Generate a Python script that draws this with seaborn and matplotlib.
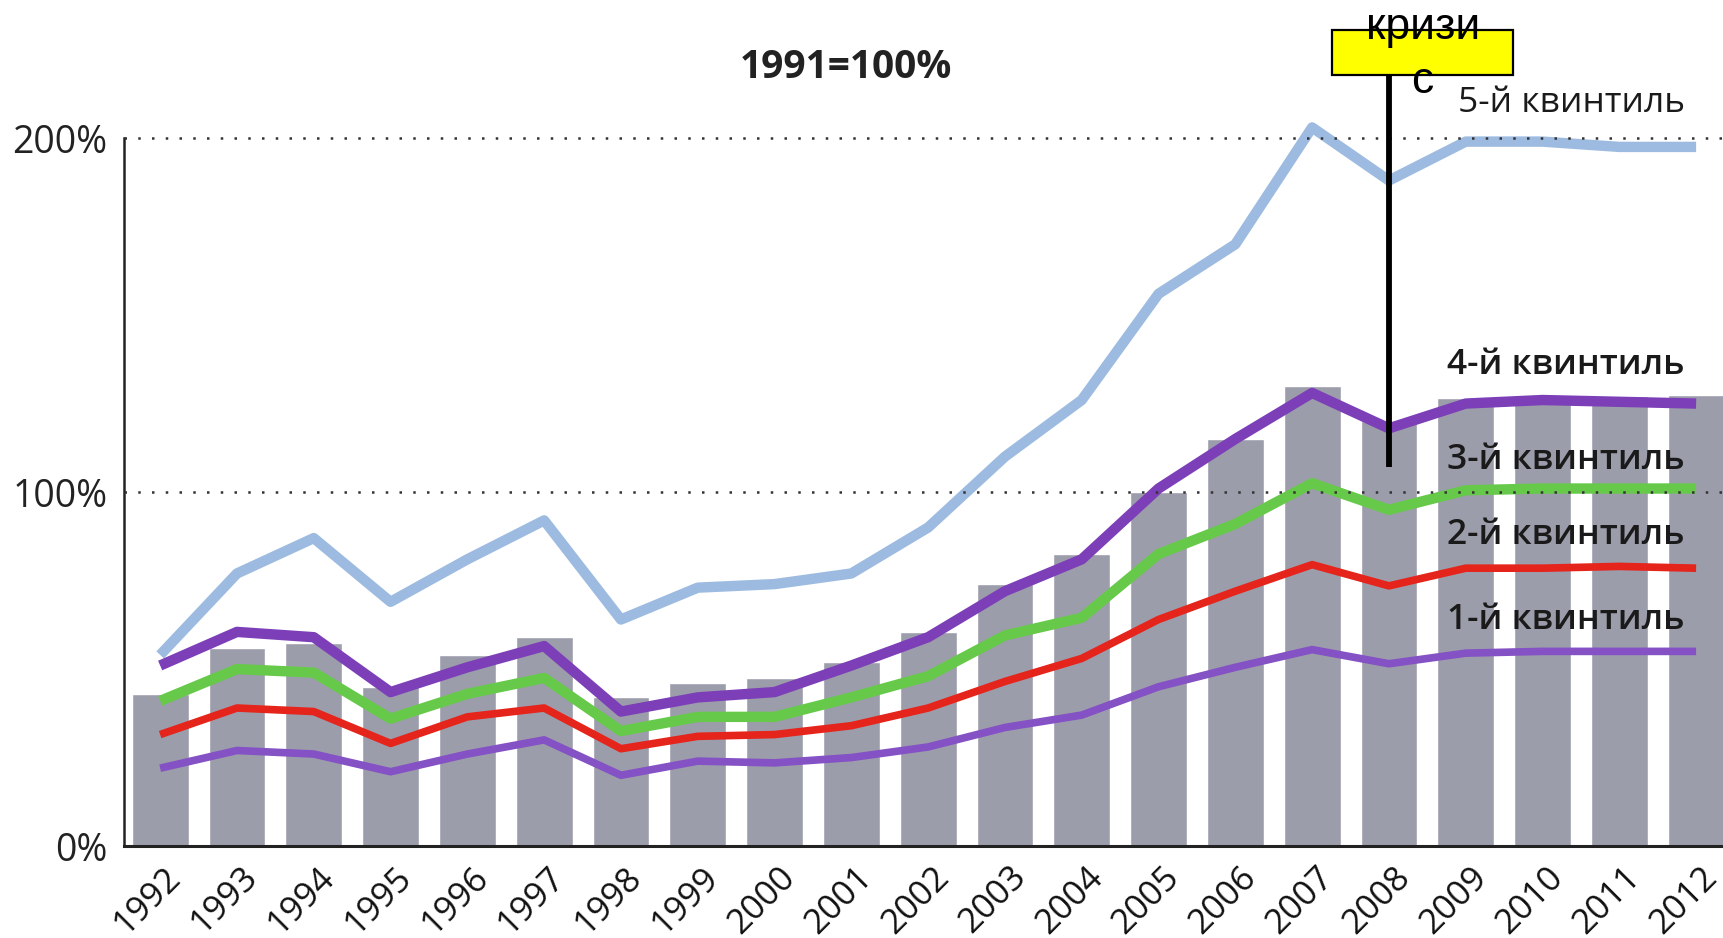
import numpy as np
import matplotlib.pyplot as plt
import matplotlib.transforms as mtransforms
from matplotlib.patches import Rectangle
import pandas as pd
import seaborn as sns

# index 1991 = 100%
years = [str(y) for y in range(1992, 2013)]
total = [43, 56, 57.5, 45, 54, 59, 42, 46, 47.5, 52, 60.5, 74, 82.5,
         100, 115, 130, 120, 126.5, 127, 127, 127.5]
q5 = [54, 77, 87, 69, 81, 92, 64, 73, 74, 77, 90, 110, 126,
      156, 170, 203, 188, 199, 199, 197.5, 197.5]
q4 = [51, 60.5, 59, 43.5, 50.5, 56.5, 38, 42, 43.5, 51, 59, 72, 81,
      101, 115, 128, 118, 125, 126, 125.5, 125]
q3 = [41, 50, 49, 36, 43, 47.5, 32.5, 36.5, 36.5, 42, 48, 59.5, 64.5,
      82.5, 91, 102.5, 95, 100.5, 101, 101, 101]
q2 = [31.5, 39, 38, 29, 36.5, 39, 27.5, 31, 31.5, 34, 39, 46.5, 53,
      64, 72, 79.5, 73.5, 78.5, 78.5, 79, 78.5]
q1 = [22, 27, 26, 21, 26, 30, 20, 24, 23.5, 25, 28, 33.5, 37,
      45, 50.5, 55.5, 51.5, 54.5, 55, 55, 55]

quintiles = [
    ("5-й квинтиль", q5, "#9dbbe0", 7.5, 210, "medium"),
    ("4-й квинтиль", q4, "#7c3fb8", 7.5, 136, "semibold"),
    ("3-й квинтиль", q3, "#66c94a", 7.5, 109, "semibold"),
    ("2-й квинтиль", q2, "#e5241b", 5.5, 88, "semibold"),
    ("1-й квинтиль", q1, "#8452c4", 5.5, 64, "semibold"),
]

sns.set_theme(style="white")
plt.rcParams['font.family'] = ['Open Sans', 'DejaVu Sans']

fig = plt.figure(figsize=(17.23, 9.38), dpi=100)
ax = fig.add_axes([0.072, 0.098, 0.928, 0.902])

df = pd.DataFrame({"year": years, "total": total})
sns.barplot(data=df, x="year", y="total", color="#9c9dab", width=0.74,
            saturation=1, ax=ax, zorder=1)

pos = np.arange(len(years))
for name, vals, col, lw, ly, wt in quintiles:
    sns.lineplot(x=pos, y=vals, color=col, linewidth=lw, ax=ax, zorder=3,
                 solid_capstyle="butt", solid_joinstyle="round")
    ax.text(19.85, ly, name, ha="right", va="center", fontsize=25.5,
            fontweight=wt, color="#1a1a1a", zorder=6)

for lvl in [100, 200]:
    ax.axhline(lvl, color="#333333", linestyle=(0, (1, 4.5)), linewidth=1.8,
               zorder=4)

ax.set_xlim(-0.47, 20.35)
ax.set_ylim(0, 239)
ax.set_yticks([0, 100, 200])
ax.set_yticklabels(["0%", "100%", "200%"], fontsize=27, color="#222222")
ax.tick_params(axis="y", length=0, pad=12)
ax.tick_params(axis="x", length=0, pad=10)
ax.set_xlabel("")
ax.set_ylabel("")

for lab in ax.get_xticklabels():
    lab.set_rotation(45)
    lab.set_ha("right")
    lab.set_fontsize(25)
    lab.set_color("#111111")
    lab.set_transform(lab.get_transform() +
                      mtransforms.ScaledTranslation(0.28, 0, fig.dpi_scale_trans))

for side in ["top", "right"]:
    ax.spines[side].set_visible(False)
ax.spines["left"].set_bounds(0, 200)
ax.spines["left"].set_color("#222222")
ax.spines["left"].set_linewidth(1.8)
ax.spines["bottom"].set_color("#222222")
ax.spines["bottom"].set_linewidth(2.2)

ax.text(8.93, 220, "1991=100%", ha="center", va="center",
        fontsize=28, fontweight="bold", color="#222222")

# crisis callout
crisis = years.index("2008")
ax.plot([crisis, crisis], [107, 217.8], color="black", linewidth=4.2, zorder=7,
        solid_capstyle="butt")
ax.add_patch(Rectangle((15.26, 217.8), 2.36, 12.7, facecolor="#ffff00",
                       edgecolor="black", linewidth=1.6, zorder=8))
ax.text(16.44, 223.5, "кризи\nс", ha="center", va="center", fontsize=32,
        family=["Liberation Sans", "DejaVu Sans"], linespacing=1.4,
        color="black", zorder=9)

fig.savefig("out.png", dpi=100)
